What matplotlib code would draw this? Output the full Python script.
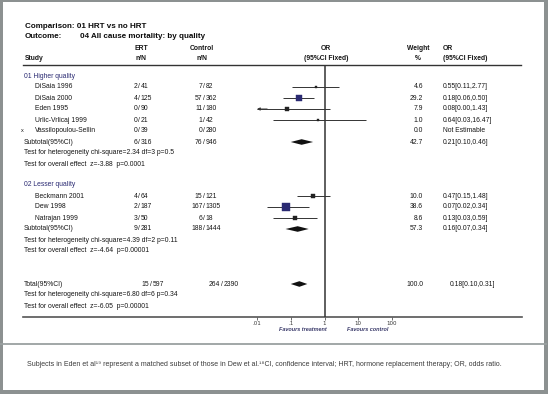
import matplotlib
matplotlib.use("Agg")
import matplotlib.pyplot as plt
from matplotlib.patches import Rectangle

# ---------------- data ----------------
group_titles = ["01 Higher quality", "02 Lesser quality"]

studies_g1 = ["DiSaia 1996", "DiSaia 2000", "Eden 1995", "Urlic-Vrlicaj 1999", "Vassilopoulou-Sellin"]
ert_n_g1 = [2, 4, 0, 0, 0]
ert_N_g1 = [41, 125, 90, 21, 39]
ctl_n_g1 = [7, 57, 11, 1, 0]
ctl_N_g1 = [82, 362, 180, 42, 280]
weight_g1 = [4.6, 29.2, 7.9, 1.0, 0.0]
or_g1 = [0.55, 0.18, 0.08, 0.64, None]
lo_g1 = [0.11, 0.06, 0.00, 0.03, None]
hi_g1 = [2.77, 0.50, 1.43, 16.47, None]

sub1_counts = [6, 316, 76, 946]
sub1_weight = 42.7
sub1_or = [0.21, 0.10, 0.46]
sub1_tests = ["Test for heterogeneity chi-square=2.34 df=3 p=0.5",
              "Test for overall effect  z=-3.88  p=0.0001"]

studies_g2 = ["Beckmann 2001", "Dew 1998", "Natrajan 1999"]
ert_n_g2 = [4, 2, 3]
ert_N_g2 = [64, 187, 50]
ctl_n_g2 = [15, 167, 6]
ctl_N_g2 = [121, 1305, 18]
weight_g2 = [10.0, 38.6, 8.6]
or_g2 = [0.47, 0.07, 0.13]
lo_g2 = [0.15, 0.02, 0.03]
hi_g2 = [1.48, 0.34, 0.59]

sub2_counts = [9, 281, 188, 1444]
sub2_weight = 57.3
sub2_or = [0.16, 0.07, 0.34]
sub2_tests = ["Test for heterogeneity chi-square=4.39 df=2 p=0.11",
              "Test for overall effect  z=-4.64  p=0.00001"]

total_counts = [15, 597, 264, 2390]
total_weight = 100.0
total_or = [0.18, 0.10, 0.31]
total_tests = ["Test for heterogeneity chi-square=6.80 df=6 p=0.34",
               "Test for overall effect  z=-6.05  p=0.00001"]

axis_ticks = [0.01, 0.1, 1, 10, 100]
axis_ticklabels = [".01", ".1", "1", "10", "100"]

caption = ("Subjects in Eden et al\u00b9\u2079 represent a matched subset of those in Dew et al.\u00b9\u2078"
           "CI, confidence interval; HRT, hormone replacement therapy; OR, odds ratio.")

# ---------------- layout ----------------
W, H = 550, 396
TXT = "#161616"
NAVY = "#2a2a72"
FONT = ["Liberation Sans", "DejaVu Sans"]
FS = 4.9

fig = plt.figure(figsize=(W / 100, H / 100), dpi=100)
bg = fig.add_axes([0, 0, 1, 1])
bg.set_xlim(0, W)
bg.set_ylim(H, 0)
bg.axis("off")

# frame
frame_col = "#8c9191"
bg.add_patch(Rectangle((0, 0), 3, 393.5, color=frame_col, lw=0))
bg.add_patch(Rectangle((0, 0), 547, 1.5, color=frame_col, lw=0))
bg.add_patch(Rectangle((544, 0), 3.5, 393.5, color=frame_col, lw=0))
bg.add_patch(Rectangle((0, 390), 547.5, 3.5, color=frame_col, lw=0))
bg.plot([0, 546], [343.5, 343.5], color="#9aa0a0", lw=1.3)


def t(x, y, s, ha="left", bold=False, color=TXT, fs=FS, style="normal"):
    bg.text(x, y, s, ha=ha, va="center", fontsize=fs, color=color,
            fontweight="bold" if bold else "normal", family=FONT, fontstyle=style)


# titles
t(25, 26, "Comparison: 01 HRT vs no HRT", bold=True, fs=5.8, color="#0a0a0a")
t(25, 37, "Outcome:", bold=True, fs=5.8, color="#0a0a0a")
t(80, 37, "04 All cause mortality: by quality", bold=True, fs=5.8, color="#0a0a0a")

# headers
HY1, HY2 = 48, 58
X_ERT, X_CTL, X_OR, X_W, X_ORT = 139, 204, 326, 423, 443
t(25, HY2, "Study", bold=True)
t(X_ERT + 2, HY1, "ERT", ha="center", bold=True)
t(X_ERT + 2, HY2, "n/N", ha="center", bold=True)
t(X_CTL - 2, HY1, "Control", ha="center", bold=True)
t(X_CTL - 2, HY2, "n/N", ha="center", bold=True)
t(X_OR, HY1, "OR", ha="center", bold=True)
t(X_OR, HY2, "(95%CI Fixed)", ha="center", bold=True)
t(X_W - 5, HY1, "Weight", ha="center", bold=True)
t(X_W - 5, HY2, "%", ha="center", bold=True)
t(X_ORT, HY1, "OR", bold=True)
t(X_ORT, HY2, "(95%CI Fixed)", bold=True)
bg.plot([23, 521], [65, 65], color="#333333", lw=1.0)
bg.plot([23, 522], [316.5, 316.5], color="#555555", lw=1.2)


def counts(y, n1, N1, n2, N2, dx=0, dx2=0):
    for xs, a, b in ((X_ERT + dx, n1, N1), (X_CTL + dx2, n2, N2)):
        t(xs - 1.5, y, f"{a}", ha="right")
        t(xs, y, "/", ha="center")
        t(xs + 1.5, y, f"{b}", ha="left")


def ortext(y, est, lo, hi, dx=0):
    if est is None:
        t(X_ORT + dx, y, "Not Estimable")
    else:
        t(X_ORT + dx, y, f"{est:.2f}[{lo:.2f},{hi:.2f}]")


# forest axes (log scale, 0.01 .. 100)
x0, x1 = 257, 392
y_top, y_bot = 65, 316.5
ax = fig.add_axes([x0 / W, 1 - y_bot / H, (x1 - x0) / W, (y_bot - y_top) / H])
ax.set_xscale("log")
ax.set_xlim(0.01, 100)
ax.set_ylim(y_bot, y_top)
ax.patch.set_alpha(0)
for s in ax.spines.values():
    s.set_visible(False)
ax.set_yticks([])
ax.set_xticks(axis_ticks, axis_ticklabels)
ax.minorticks_off()
ax.tick_params(axis="x", length=2.5, width=0.6, color="#555555", pad=1,
               labelsize=4, labelcolor="#333333")
ax.axvline(1, color="#333333", lw=1.1)
ax.text(0.1 * 2.3, 330, "Favours treatment", ha="center", va="center", fontsize=4,
        color="#3a3a6a", family=FONT, style="italic", fontweight="bold", clip_on=False)
ax.text(10 * 1.9, 330, "Favours control", ha="center", va="center", fontsize=4,
        color="#3a3a6a", family=FONT, style="italic", fontweight="bold", clip_on=False)


def study_mark(y, est, lo, hi, w):
    if est is None:
        return
    lo_c = max(lo, 0.01)
    ax.hlines(y, lo_c, hi, color="#333333", lw=0.7)
    if lo < 0.01:
        ax.annotate("", xy=(0.01, y), xytext=(0.02, y),
                    arrowprops=dict(arrowstyle="-|>", color="#333333", lw=0.7,
                                    mutation_scale=4, shrinkA=0, shrinkB=0))
    ms = 0.85 * w ** 0.5
    col = NAVY if w > 20 else "#222222"
    ax.plot([est], [y], marker="s", ms=max(ms, 1.6), color=col, mec=col, mew=0.3)


def diamond(y, est, lo, hi):
    ax.fill([lo, est, hi, est], [y, y - 2.8, y, y + 2.8], color="#111111", lw=0)


# group 1
t(24, 76, group_titles[0], color=NAVY)
ys1 = [87, 98, 109, 120, 131]
for i, yy in enumerate(ys1):
    t(35, yy, studies_g1[i])
    counts(yy, ert_n_g1[i], ert_N_g1[i], ctl_n_g1[i], ctl_N_g1[i])
    t(X_W, yy, f"{weight_g1[i]:.1f}", ha="right")
    ortext(yy, or_g1[i], lo_g1[i], hi_g1[i])
    study_mark(yy, or_g1[i], lo_g1[i], hi_g1[i], weight_g1[i])
t(21, 131, "x", fs=4)
ys = 142
t(24, ys, "Subtotal(95%CI)")
counts(ys, *sub1_counts)
t(X_W, ys, f"{sub1_weight:.1f}", ha="right")
ortext(ys, *sub1_or)
diamond(ys, *sub1_or)
t(24, 153, sub1_tests[0])
t(24, 164, sub1_tests[1])

# group 2
t(24, 184, group_titles[1], color=NAVY)
ys2 = [196, 207, 218]
for i, yy in enumerate(ys2):
    t(35, yy, studies_g2[i])
    counts(yy, ert_n_g2[i], ert_N_g2[i], ctl_n_g2[i], ctl_N_g2[i])
    t(X_W, yy, f"{weight_g2[i]:.1f}", ha="right")
    ortext(yy, or_g2[i], lo_g2[i], hi_g2[i])
    study_mark(yy, or_g2[i], lo_g2[i], hi_g2[i], weight_g2[i])
ys = 229
t(24, ys, "Subtotal(95%CI)")
counts(ys, *sub2_counts)
t(X_W, ys, f"{sub2_weight:.1f}", ha="right")
ortext(ys, *sub2_or)
diamond(ys, *sub2_or)
t(24, 240, sub2_tests[0])
t(24, 251, sub2_tests[1])

# total
yt = 284
t(24, yt, "Total(95%CI)")
counts(yt, *total_counts, dx=12, dx2=18)
t(X_W, yt, f"{total_weight:.1f}", ha="right")
ortext(yt, *total_or, dx=7)
diamond(yt, *total_or)
t(24, 295, total_tests[0])
t(24, 306, total_tests[1])

# caption
bg.text(27, 365, caption, ha="left", va="center", fontsize=5.0, color="#3a3a3a",
        family=FONT)

fig.savefig("out.png", dpi=100)
